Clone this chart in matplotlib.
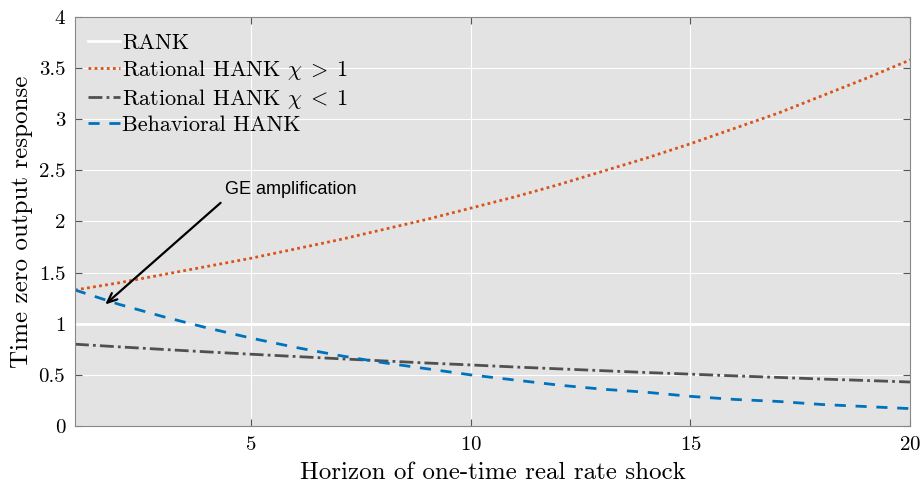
import matplotlib
matplotlib.use('Agg')
import matplotlib.pyplot as plt

plt.rcParams['font.family'] = 'serif'
plt.rcParams['font.serif'] = ['cmr10']
plt.rcParams['mathtext.fontset'] = 'cm'
plt.rcParams['axes.formatter.use_mathtext'] = True

# horizon of the real rate shock
horizon = list(range(1, 21))
rank = [1.0] * 20
hank_chi_gt1 = [1.33, 1.40, 1.48, 1.56, 1.64, 1.73, 1.82, 1.92, 2.02, 2.13,
                2.24, 2.36, 2.49, 2.62, 2.76, 2.91, 3.06, 3.23, 3.40, 3.58]
hank_chi_lt1 = [0.80, 0.774, 0.749, 0.725, 0.702, 0.680, 0.658, 0.637, 0.616, 0.597,
                0.577, 0.559, 0.541, 0.523, 0.507, 0.490, 0.475, 0.459, 0.445, 0.430]
behavioral = [1.33, 1.19, 1.07, 0.96, 0.86, 0.77, 0.69, 0.62, 0.56, 0.50,
              0.45, 0.40, 0.36, 0.33, 0.29, 0.26, 0.24, 0.21, 0.19, 0.17]

fig = plt.figure(figsize=(9.22, 4.83), dpi=100)
ax = fig.add_axes([0.0813, 0.118, 0.906, 0.847])
ax.set_facecolor('#e3e3e3')

ax.plot(horizon, rank, color='white', lw=2, label='RANK')
ax.plot(horizon, hank_chi_gt1, color='#D95319', lw=2, ls=(0, (1, 1.2)), label=r'Rational HANK $\chi\;>\;1$')
ax.plot(horizon, hank_chi_lt1, color='#505050', lw=2, ls=(0, (5, 1.5, 1, 1.5)), label=r'Rational HANK $\chi\;<\;1$')
ax.plot(horizon, behavioral, color='#0072BD', lw=2, ls=(0, (4, 3.5)), label='Behavioral HANK')

ax.set_xlim(1, 20)
ax.set_ylim(0, 4)
ax.set_xticks([5, 10, 15, 20])
ax.set_yticks([0, 0.5, 1, 1.5, 2, 2.5, 3, 3.5, 4])
ax.set_yticklabels(['0', '0.5', '1', '1.5', '2', '2.5', '3', '3.5', '4'])
ax.grid(True, color='white', lw=0.8)
ax.set_axisbelow(True)
ax.tick_params(direction='in', top=True, right=True, labelsize=15, length=5, color='#555555', pad=7)
for s in ax.spines.values():
    s.set_color('#888888')

ax.set_xlabel('Horizon of one-time real rate shock', fontsize=18, labelpad=6)
ax.set_ylabel('Time zero output response', fontsize=18, labelpad=4)

leg = ax.legend(loc='upper left', bbox_to_anchor=(0.0075, 0.976), frameon=False, fontsize=16,
                handlelength=1.45, handletextpad=0.1, labelspacing=0.22,
                borderaxespad=0, borderpad=0.3)

ax.annotate('', xy=(1.64, 1.17), xytext=(4.36, 2.2),
            arrowprops=dict(arrowstyle='->,head_length=0.7,head_width=0.3', lw=1.6, color='black'))
ax.text(4.41, 2.31, 'GE amplification', fontsize=13, family='Liberation Sans', va='center', ha='left')

fig.savefig('out.png', dpi=100)
